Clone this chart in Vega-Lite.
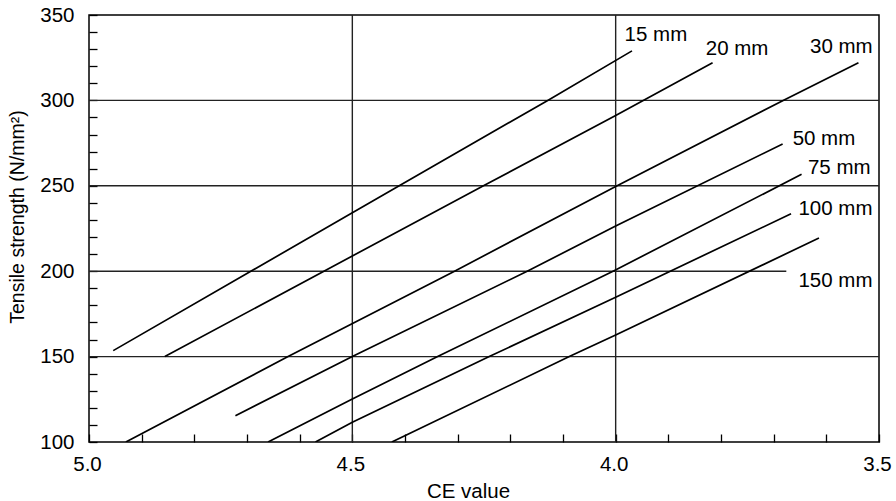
{
  "$schema": "https://vega.github.io/schema/vega-lite/v6.json",
  "autosize": "none",
  "padding": {"left": 89, "top": 15, "right": 17, "bottom": 59},
  "width": 790,
  "height": 427,
  "background": "white",
  "config": {
    "view": {"stroke": "black", "strokeWidth": 1.5},
    "font": "Liberation Sans",
    "axis": {
      "grid": false,
      "domain": false,
      "ticks": true,
      "tickSize": -8,
      "tickColor": "black",
      "tickWidth": 1.3,
      "labelOverlap": false,
      "labelFont": "Liberation Sans",
      "labelFontSize": 20.5,
      "labelColor": "black",
      "titleFont": "Liberation Sans",
      "titleFontSize": 20,
      "titleFontWeight": "normal",
      "titleColor": "black"
    }
  },
  "datasets": {
    "hgrid": [
      {"y": 150, "xa": 5.0, "xb": 3.5},
      {"y": 200, "xa": 5.0, "xb": 3.676},
      {"y": 250, "xa": 5.0, "xb": 3.5},
      {"y": 300, "xa": 5.0, "xb": 3.5}
    ],
    "vgrid": [
      {"xv": 4.5},
      {"xv": 4.0}
    ],
    "curves": [
      {"series": "15 mm", "ce": 4.954, "ts": 153.5},
      {"series": "15 mm", "ce": 4.5, "ts": 234.2},
      {"series": "15 mm", "ce": 4.411, "ts": 250},
      {"series": "15 mm", "ce": 4.129, "ts": 300},
      {"series": "15 mm", "ce": 3.969, "ts": 329.0},
      {"series": "20 mm", "ce": 4.856, "ts": 150},
      {"series": "20 mm", "ce": 4.554, "ts": 200},
      {"series": "20 mm", "ce": 4.251, "ts": 250},
      {"series": "20 mm", "ce": 4.0, "ts": 291.2},
      {"series": "20 mm", "ce": 3.816, "ts": 322.1},
      {"series": "30 mm", "ce": 4.93, "ts": 100},
      {"series": "30 mm", "ce": 4.622, "ts": 150},
      {"series": "30 mm", "ce": 4.306, "ts": 200},
      {"series": "30 mm", "ce": 4.0, "ts": 249.6},
      {"series": "30 mm", "ce": 3.682, "ts": 300},
      {"series": "30 mm", "ce": 3.539, "ts": 322.1},
      {"series": "50 mm", "ce": 4.722, "ts": 115.4},
      {"series": "50 mm", "ce": 4.5, "ts": 150},
      {"series": "50 mm", "ce": 4.168, "ts": 200},
      {"series": "50 mm", "ce": 4.0, "ts": 226.4},
      {"series": "50 mm", "ce": 3.683, "ts": 274.5},
      {"series": "75 mm", "ce": 4.66, "ts": 100},
      {"series": "75 mm", "ce": 4.5, "ts": 125.2},
      {"series": "75 mm", "ce": 4.338, "ts": 150},
      {"series": "75 mm", "ce": 4.005, "ts": 200},
      {"series": "75 mm", "ce": 3.647, "ts": 256.7},
      {"series": "100 mm", "ce": 4.57, "ts": 100},
      {"series": "100 mm", "ce": 4.5, "ts": 111.6},
      {"series": "100 mm", "ce": 4.24, "ts": 150},
      {"series": "100 mm", "ce": 4.0, "ts": 184.8},
      {"series": "100 mm", "ce": 3.667, "ts": 233.6},
      {"series": "150 mm", "ce": 4.425, "ts": 100},
      {"series": "150 mm", "ce": 4.088, "ts": 150},
      {"series": "150 mm", "ce": 4.0, "ts": 162.7},
      {"series": "150 mm", "ce": 3.614, "ts": 219.4}
    ],
    "labels": [
      {"label": "15 mm", "lx": 3.983, "ly": 338.4},
      {"label": "20 mm", "lx": 3.829, "ly": 330.3},
      {"label": "30 mm", "lx": 3.631, "ly": 331.0},
      {"label": "50 mm", "lx": 3.664, "ly": 277.4},
      {"label": "75 mm", "lx": 3.635, "ly": 260.7},
      {"label": "100 mm", "lx": 3.653, "ly": 236.4},
      {"label": "150 mm", "lx": 3.653, "ly": 194.2}
    ]
  },
  "layer": [
    {
      "data": {"name": "hgrid"},
      "mark": {"type": "rule", "color": "#222222", "strokeWidth": 1.4},
      "encoding": {
        "y": {"field": "y", "type": "quantitative", "title": "Tensile strength (N/mm²)"},
        "x": {"field": "xa", "type": "quantitative", "title": "CE value"},
        "x2": {"field": "xb"}
      }
    },
    {
      "data": {"name": "vgrid"},
      "mark": {"type": "rule", "color": "#222222", "strokeWidth": 1.4},
      "encoding": {
        "x": {"field": "xv", "type": "quantitative", "title": "CE value"}
      }
    },
    {
      "data": {"name": "curves"},
      "mark": {"type": "line", "color": "black", "strokeWidth": 1.7, "clip": true},
      "encoding": {
        "x": {
          "field": "ce",
          "type": "quantitative",
          "title": "CE value",
          "scale": {"domain": [3.5, 5.0], "reverse": true, "nice": false, "zero": false},
          "axis": {
            "values": [5.0, 4.9, 4.8, 4.7, 4.6, 4.5, 4.4, 4.3, 4.2, 4.1, 4.0, 3.9, 3.8, 3.7, 3.6, 3.5],
            "tickCount": 40,
            "labelExpr": "indexof(['5.0','4.5','4.0','3.5'], format(datum.value, '.1f')) >= 0 ? format(datum.value, '.1f') : ''",
            "labelBaseline": "alphabetic",
            "labelPadding": 36,
            "labelFlush": false,
            "labelOverlap": false,
            "labelOffset": -2,
            "labelAlign": "center",
            "titleX": 379,
            "titleY": 55,
            "titleFontSize": 20.5,
            "titleBaseline": "alphabetic",
            "titleAlign": "center"
          }
        },
        "y": {
          "field": "ts",
          "type": "quantitative",
          "title": "Tensile strength (N/mm²)",
          "scale": {"domain": [100, 350], "nice": false, "zero": false},
          "axis": {
            "values": [100, 110, 120, 130, 140, 150, 160, 170, 180, 190, 200, 210, 220, 230, 240, 250, 260, 270, 280, 290, 300, 310, 320, 330, 340, 350],
            "tickCount": 40,
            "labelExpr": "datum.value % 50 === 0 ? datum.label : ''",
            "labelPadding": 23,
            "labelBaseline": "middle",
            "labelFlush": false,
            "labelOverlap": false,
            "titleX": -65.5,
            "titleY": 201.5,
            "titleFontSize": 19.5,
            "titleAngle": -90,
            "titleBaseline": "alphabetic",
            "titleAlign": "center"
          }
        },
        "detail": {"field": "series", "type": "nominal"}
      }
    },
    {
      "data": {"name": "labels"},
      "mark": {"type": "text", "align": "left", "baseline": "middle", "fontSize": 20.5, "font": "Liberation Sans", "color": "black"},
      "encoding": {
        "x": {"field": "lx", "type": "quantitative", "title": "CE value"},
        "y": {"field": "ly", "type": "quantitative", "title": "Tensile strength (N/mm²)"},
        "text": {"field": "label", "type": "nominal"}
      }
    }
  ]
}
